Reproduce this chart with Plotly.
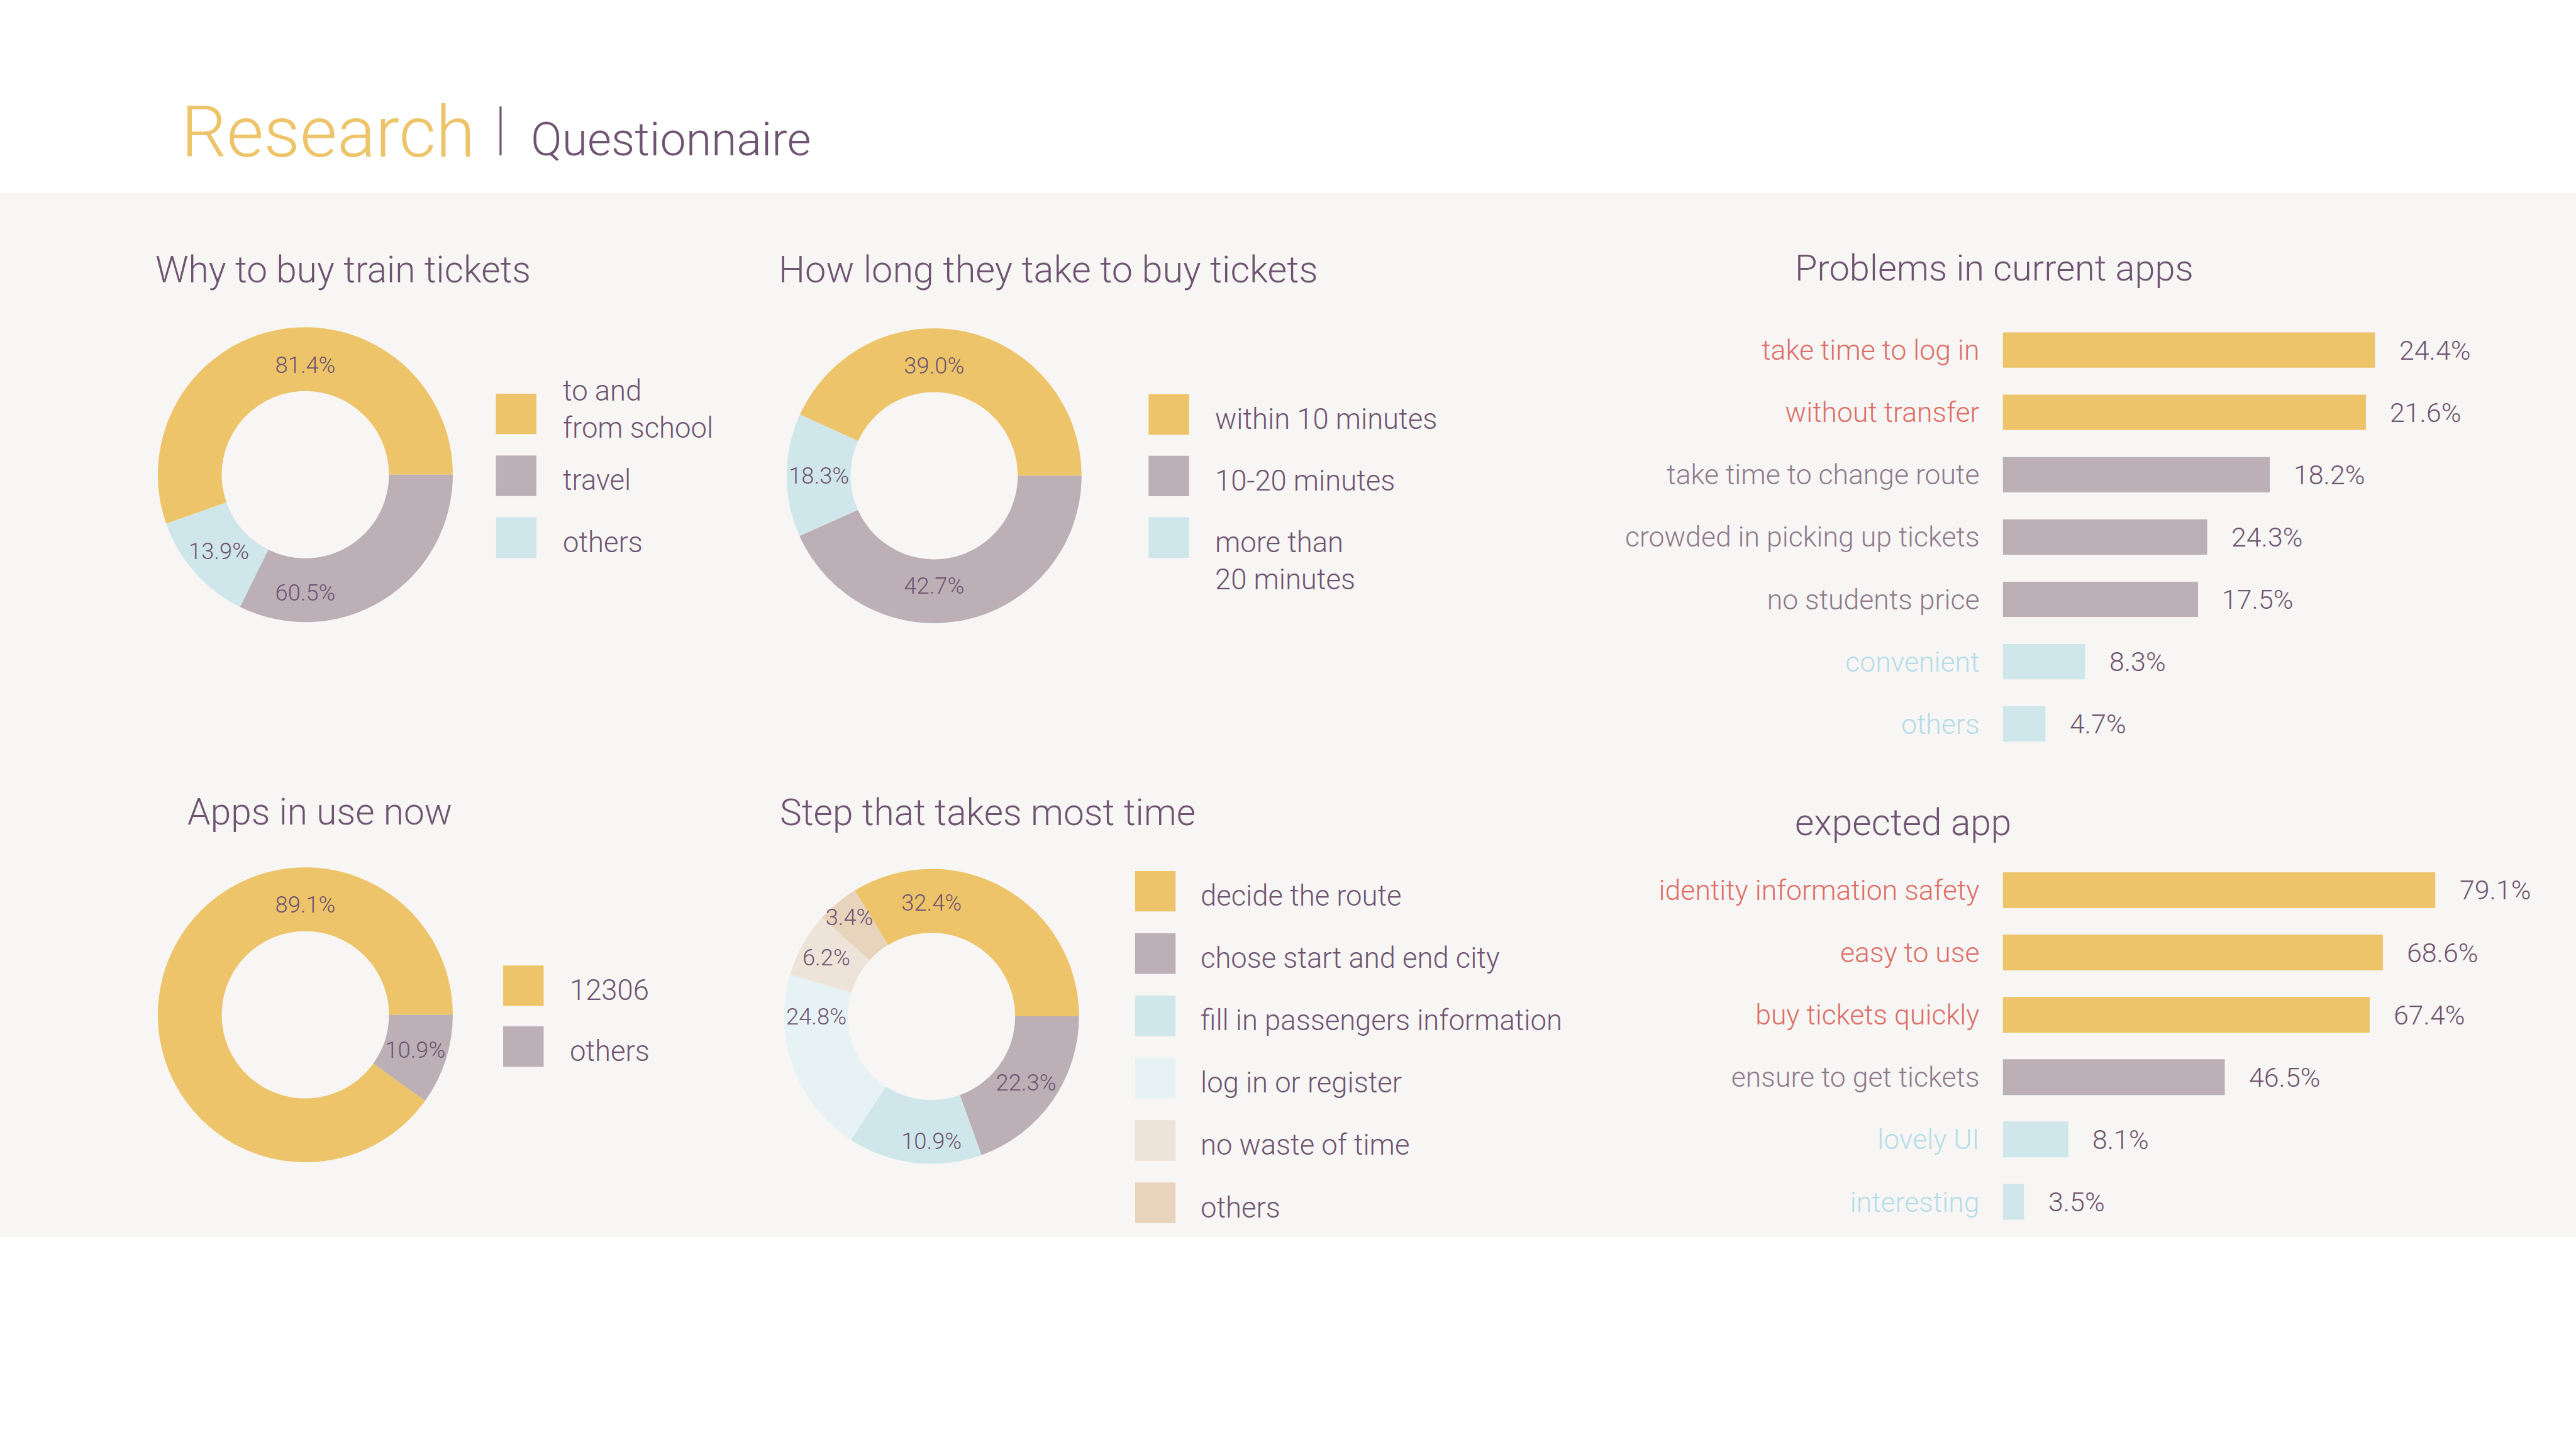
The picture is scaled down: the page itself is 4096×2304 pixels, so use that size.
import plotly.graph_objects as go

# ---------------- data ----------------
why_labels = ["to and<br>from school", "travel", "others"]
why_pct = ["81.4%", "60.5%", "13.9%"]
why_share = [55.4, 32.3, 12.3]          # drawn slice sizes

howlong_labels = ["within 10 minutes", "10-20 minutes", "more than<br>20 minutes"]
howlong_pct = ["39.0%", "42.7%", "18.3%"]
howlong_share = [43.2, 43.3, 13.5]

apps_labels = ["12306", "others"]
apps_pct = ["89.1%", "10.9%"]
apps_share = [90.1, 9.9]

step_labels = ["decide the route", "chose start and end city", "fill in passengers information",
               "log in or register", "no waste of time", "others"]
step_pct = ["32.4%", "22.3%", "10.9%", "24.8%", "6.2%", "3.4%"]
step_share = [33.7, 19.5, 14.7, 20.4, 7.1, 4.6]

problem_labels = ["take time to log in", "without transfer", "take time to change route",
                  "crowded in picking up tickets", "no students price", "convenient", "others"]
problem_pct = ["24.4%", "21.6%", "18.2%", "24.3%", "17.5%", "8.3%", "4.7%"]
problem_len = [24.4, 23.8, 17.5, 13.4, 12.8, 5.4, 2.8]      # drawn bar lengths
problem_group = ["high", "high", "mid", "mid", "mid", "low", "low"]

expected_labels = ["identity information safety", "easy to use", "buy tickets quickly",
                   "ensure to get tickets", "lovely UI", "interesting"]
expected_pct = ["79.1%", "68.6%", "67.4%", "46.5%", "8.1%", "3.5%"]
expected_len = [79.1, 69.5, 67.1, 40.6, 12.0, 3.9]
expected_group = ["high", "high", "high", "mid", "low", "low"]

# ---------------- style ----------------
YELLOW = "#EDC46A"
MAUVE = "#BCAFB6"
CYAN = "#CFE6EA"
VLCYAN = "#E7F2F4"
LTAN = "#EDE3D9"
TAN = "#E8D4BD"
PURPLE = "#6E5470"
CORAL = "#DD6E66"
GREYP = "#8E7A8C"
LBLUE = "#B5DCE8"
BAND = "#F7F6F4"
FONT = "Roboto"

why_colors = [YELLOW, MAUVE, CYAN]
howlong_colors = [YELLOW, MAUVE, CYAN]
apps_colors = [YELLOW, MAUVE]
step_colors = [YELLOW, MAUVE, CYAN, VLCYAN, LTAN, TAN]
bar_color = {"high": YELLOW, "mid": MAUVE, "low": CYAN}
label_color = {"high": CORAL, "mid": GREYP, "low": LBLUE}

W, H = 4096, 2304
RW, RH = 4961, 2790
S = W / RW


def px(x):
    return x / RW


def py(y):
    return 1 - y / RH


def fs(v):
    return v * S


fig = go.Figure()
annotations = []
shapes = []

# background band
shapes.append(dict(type="rect", xref="paper", yref="paper", x0=0, x1=1, y0=py(2382), y1=py(371),
                   fillcolor=BAND, line=dict(width=0), layer="below"))


def text_at(txt, x, baseline, size, color, xanchor="left"):
    annotations.append(dict(text=txt, x=px(x), y=py(baseline - 0.345 * size), xref="paper", yref="paper",
                            xanchor=xanchor, yanchor="middle", showarrow=False,
                            font=dict(family=FONT, size=fs(size), color=color, weight=300)))


# header
text_at("Research", 346, 302, 138, YELLOW)
shapes.append(dict(type="line", xref="paper", yref="paper", x0=px(964), x1=px(964), y0=py(299), y1=py(205),
                   line=dict(color=PURPLE, width=fs(4))))
text_at("Questionnaire", 1020, 300, 89, PURPLE)

# section titles
text_at("Why to buy train tickets", 297, 544, 71, PURPLE)
text_at("How long they take to buy tickets", 1497, 544, 72, PURPLE)
text_at("Problems in current apps", 3454, 540, 70, PURPLE)
text_at("Apps in use now", 358, 1588, 71, PURPLE)
text_at("Step that takes most time", 1499, 1589, 71, PURPLE)
text_at("expected app", 3454, 1609, 71, PURPLE)


# ---------------- donuts ----------------
def donut(share, pct, colors, cx, cy, r):
    # first slice ends at 3 o'clock; remaining slices continue clockwise
    rot = 90 - 360 * share[0] / sum(share)
    fig.add_trace(go.Pie(
        values=share, text=pct,
        marker=dict(colors=colors, line=dict(width=0)),
        textinfo="text", textposition="inside", insidetextorientation="horizontal",
        textfont=dict(family=FONT, size=fs(44), color=PURPLE, weight=300),
        hole=0.567, sort=False, direction="clockwise", rotation=rot,
        showlegend=False, hoverinfo="skip",
        domain=dict(x=[px(cx - r), px(cx + r)], y=[py(cy + r), py(cy - r)]),
    ))


def legend(labels, colors, x0, top, step, text_x, mode="center", size=55, sq=78):
    for i, (lab, col) in enumerate(zip(labels, colors)):
        t = top + i * step
        shapes.append(dict(type="rect", xref="paper", yref="paper", x0=px(x0), x1=px(x0 + sq),
                           y0=py(t + sq), y1=py(t), fillcolor=col, line=dict(width=0)))
        c = t + sq / 2
        nl = lab.count("<br>") + 1
        first = c + 28 - (0.75 * 72 * (nl - 1) if mode == "center" else 0)
        ls = 1.3 * size
        center = first + (nl - 1) * ls / 2 - 0.345 * size
        annotations.append(dict(text=lab, x=px(text_x), y=py(center), xref="paper", yref="paper",
                                xanchor="left", yanchor="middle", align="left", showarrow=False,
                                font=dict(family=FONT, size=fs(size), color=PURPLE, weight=300)))


donut(why_share, why_pct, why_colors, 588, 914, 284)
legend(why_labels, why_colors, 955, 758, 119, 1081, mode="center")

donut(howlong_share, howlong_pct, howlong_colors, 1799, 916, 284)
legend(howlong_labels, howlong_colors, 2212, 759, 118.5, 2338, mode="top")

donut(apps_share, apps_pct, apps_colors, 588, 1954, 284)
legend(apps_labels, apps_colors, 969, 1859, 117, 1095)

donut(step_share, step_pct, step_colors, 1794, 1957, 284)
legend(step_labels, step_colors, 2186, 1677, 120, 2310)


# ---------------- bars ----------------
def bars(labels, pct, lens, groups, xa, ya, top, step, barh, ref_per_unit):
    n = len(labels)
    idx = list(range(n))
    fig.add_trace(go.Bar(
        x=lens, y=idx, orientation="h", xaxis=xa, yaxis=ya,
        marker=dict(color=[bar_color[g] for g in groups], line=dict(width=0)),
        width=barh / step, showlegend=False, hoverinfo="skip",
    ))
    ax_x = "xaxis" + xa[1:]
    ax_y = "yaxis" + ya[1:]
    left, right = 3857, 4900
    fig.layout[ax_x] = dict(domain=[px(left), px(right)], range=[0, (right - left) / ref_per_unit],
                            visible=False, fixedrange=True, anchor=ya)
    fig.layout[ax_y] = dict(domain=[py(top + n * step), py(top)], range=[n - 0.5, -0.5],
                            tickmode="array", tickvals=idx,
                            ticktext=[f"<span style='color:{label_color[g]}'>{l}</span>"
                                      for l, g in zip(labels, groups)],
                            tickfont=dict(family=FONT, size=fs(54), color=GREYP, weight=300),
                            ticklabelstandoff=int(round(fs(43))), showgrid=False, zeroline=False,
                            showline=False, ticks="", anchor=xa, fixedrange=True)
    for i in idx:
        annotations.append(dict(text=pct[i], x=lens[i], y=i, xref=xa, yref=ya, xanchor="left",
                                yanchor="middle", xshift=fs(44), showarrow=False,
                                font=dict(family=FONT, size=fs(52), color=PURPLE, weight=300)))


bars(problem_labels, problem_pct, problem_len, problem_group, "x", "y", 614, 120, 68, 717 / 24.4)
bars(expected_labels, expected_pct, expected_len, expected_group, "x2", "y2", 1654, 120, 69, 833 / 79.1)

fig.update_layout(
    width=W, height=H, margin=dict(l=0, r=0, t=0, b=0),
    paper_bgcolor="white", plot_bgcolor="rgba(0,0,0,0)",
    annotations=annotations, shapes=shapes,
    uniformtext=dict(minsize=fs(44), mode="show"),
    font=dict(family=FONT, color=PURPLE),
)

fig.write_html("out.html", config={"displayModeBar": False})
